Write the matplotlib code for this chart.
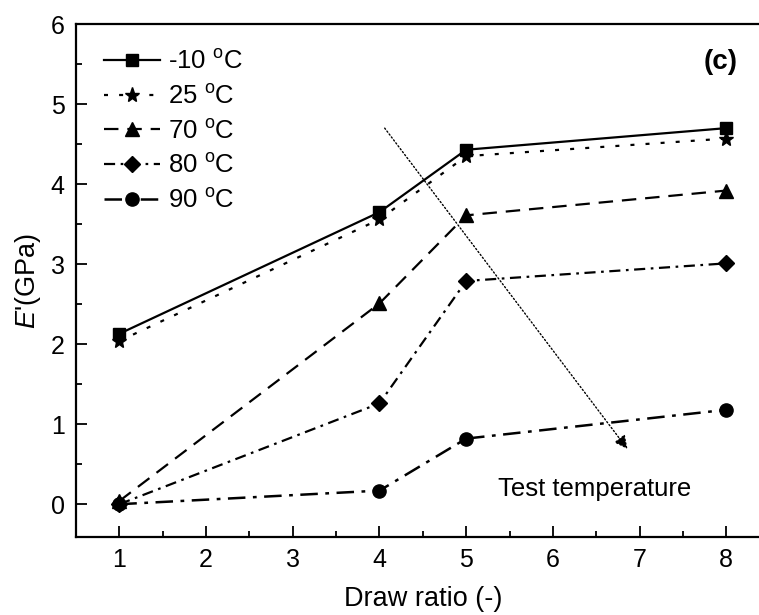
import matplotlib.pyplot as plt
from matplotlib.ticker import MultipleLocator

plt.rcParams['font.family'] = ['Liberation Sans', 'DejaVu Sans']
plt.rcParams['mathtext.fontset'] = 'custom'
plt.rcParams['mathtext.rm'] = 'Liberation Sans'
plt.rcParams['mathtext.it'] = 'Liberation Sans:italic'

# draw ratio and storage modulus (GPa) at each test temperature
draw_ratio = [1, 4, 5, 8]
e_m10 = [2.13, 3.65, 4.43, 4.70]
e_25 = [2.04, 3.56, 4.35, 4.57]
e_70 = [0.04, 2.51, 3.61, 3.92]
e_80 = [0.00, 1.26, 2.79, 3.01]
e_90 = [0.00, 0.17, 0.82, 1.18]
labels = ['-10 $^{\\mathrm{o}}$C', '25 $^{\\mathrm{o}}$C', '70 $^{\\mathrm{o}}$C',
          '80 $^{\\mathrm{o}}$C', '90 $^{\\mathrm{o}}$C']

fig = plt.figure(figsize=(7.59, 6.15), dpi=100)
ax = fig.add_axes([0.1001, 0.1268, 0.914, 0.834])

ax.plot(draw_ratio, e_m10, '-', marker='s', color='black', lw=1.6, ms=8.5, label=labels[0])
ax.plot(draw_ratio, e_25, ':', marker='*', color='black', lw=1.6, ms=11,
        dashes=(1.8, 5), label=labels[1])
ax.plot(draw_ratio, e_70, '--', marker='^', color='black', lw=1.6, ms=10,
        dashes=(6.5, 4), label=labels[2])
ax.plot(draw_ratio, e_80, '-.', marker='D', color='black', lw=1.6, ms=8.5,
        dashes=(5, 2.5, 1.2, 2.5), label=labels[3])
ax.plot(draw_ratio, e_90, '-.', marker='o', color='black', lw=1.8, ms=9.5,
        dashes=(7, 3, 1.5, 3), label=labels[4])

# arrow showing increasing test temperature
ax.annotate('', xy=(6.86, 0.69), xytext=(4.06, 4.70),
            arrowprops=dict(arrowstyle='-|>', linestyle=':', lw=1.0, color='black',
                            mutation_scale=20, shrinkA=0, shrinkB=0))
ax.text(5.37, 0.19, 'Test temperature', fontsize=18.5, va='center', ha='left')
ax.text(7.93, 5.53, '(c)', fontsize=20, fontweight='bold', ha='center', va='center')

ax.set_xlim(0.5, 8.5)
ax.set_ylim(-0.41, 6)
ax.set_xticks(range(1, 9))
ax.set_yticks(range(0, 7))
ax.xaxis.set_minor_locator(MultipleLocator(0.5))
ax.yaxis.set_minor_locator(MultipleLocator(0.5))
ax.tick_params(which='major', direction='in', length=8, width=1.3, labelsize=18, pad=8)
ax.tick_params(which='minor', direction='in', length=4.5, width=1.3)
for s in ax.spines.values():
    s.set_linewidth(1.6)

ax.set_xlabel('Draw ratio (-)', fontsize=19.5, labelpad=10)
ax.set_ylabel("$\\mathit{E}$'(GPa)", fontsize=19.5, labelpad=6)

ax.legend(loc='upper left', frameon=False, fontsize=18.5, handlelength=2.2,
          labelspacing=0.42, handletextpad=0.3, borderaxespad=0.3,
          bbox_to_anchor=(0.014, 0.985))

fig.savefig('out.png', dpi=100)
